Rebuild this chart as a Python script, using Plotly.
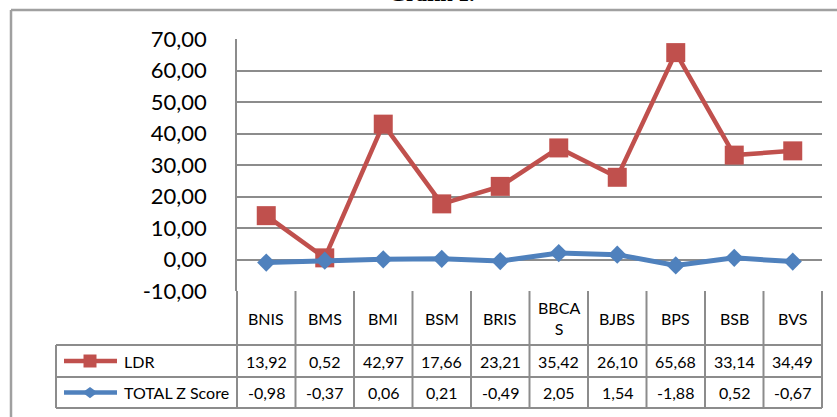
import plotly.graph_objects as go

# ---- data ----
categories = ["BNIS", "BMS", "BMI", "BSM", "BRIS", "BBCAS", "BJBS", "BPS", "BSB", "BVS"]
header_labels = ["BNIS", "BMS", "BMI", "BSM", "BRIS", "BBCA<br>S", "BJBS", "BPS", "BSB", "BVS"]
ldr = [13.92, 0.52, 42.97, 17.66, 23.21, 35.42, 26.10, 65.68, 33.14, 34.49]
zscore = [-0.98, -0.37, 0.06, 0.21, -0.49, 2.05, 1.54, -1.88, 0.52, -0.67]
series_names = ["LDR", "TOTAL Z Score"]
y_ticks = [-10, 0, 10, 20, 30, 40, 50, 60, 70]
title_text = "<b>Grafik 1.</b>"

# ---- layout geometry (pixels) ----
W, H = 837, 417
L, R, T, B = 237, 15, 39, 126
PW, PH = W - L - R, H - T - B

def px(x):
    return (x - L) / PW

def py(y):
    return (H - B - y) / PH

RED = "#C0504D"
BLUE = "#4F81BD"
GRID = "#8c8c8c"
FONT = "Lato"

def fmt(v):
    return f"{v:.2f}".replace(".", ",")

fig = go.Figure()
fig.add_trace(go.Scatter(
    x=categories, y=ldr, name=series_names[0], mode="lines+markers",
    line=dict(color=RED, width=4.5),
    marker=dict(symbol="square", size=19, color=RED),
    cliponaxis=False, showlegend=False))
fig.add_trace(go.Scatter(
    x=categories, y=zscore, name=series_names[1], mode="lines+markers",
    line=dict(color=BLUE, width=5),
    marker=dict(symbol="diamond", size=14, color=BLUE),
    cliponaxis=False, showlegend=False))

shapes = []
annotations = []
lc = dict(color=GRID, width=2)

# outer chart border
shapes.append(dict(type="line", xref="paper", yref="paper", x0=px(11), x1=px(W + 5),
                   y0=py(10), y1=py(10), line=dict(color="#a0a0a0", width=2.5)))
shapes.append(dict(type="line", xref="paper", yref="paper", x0=px(11), x1=px(11),
                   y0=py(10), y1=py(H + 5), line=dict(color="#a0a0a0", width=2.5)))

# data table rows
row_hdr_top, row1_top, row2_top, row_bot = 291, 345, 377, 408
leg_left, tab_right = 56, L + PW
for yy in (row1_top, row2_top, row_bot):
    shapes.append(dict(type="line", xref="paper", yref="paper", x0=px(leg_left), x1=px(tab_right),
                       y0=py(yy), y1=py(yy), line=lc))
shapes.append(dict(type="line", xref="paper", yref="paper", x0=px(leg_left), x1=px(leg_left),
                   y0=py(row1_top), y1=py(row_bot), line=lc))
for i in range(len(categories) + 1):
    xx = i / len(categories)
    shapes.append(dict(type="line", xref="paper", yref="paper", x0=xx, x1=xx,
                       y0=py(row_hdr_top), y1=py(row_bot), line=lc))

# header labels and values
hdr_c = (row_hdr_top + row1_top) / 2
r1_c = (row1_top + row2_top) / 2
r2_c = (row2_top + row_bot) / 2
for i, c in enumerate(categories):
    annotations.append(dict(x=c, xref="x", y=py(hdr_c), yref="paper", text=header_labels[i],
                            showarrow=False, font=dict(family=FONT, size=16, color="black"),
                            xanchor="center", yanchor="middle"))
    annotations.append(dict(x=c, xref="x", y=py(r1_c), yref="paper", text=fmt(ldr[i]),
                            showarrow=False, font=dict(family=FONT, size=16, color="black"),
                            xanchor="center", yanchor="middle"))
    annotations.append(dict(x=c, xref="x", y=py(r2_c), yref="paper", text=fmt(zscore[i]),
                            showarrow=False, font=dict(family=FONT, size=16, color="black"),
                            xanchor="center", yanchor="middle"))

# legend keys in table
for name, col, yc, sym in ((series_names[0], RED, r1_c, "square"), (series_names[1], BLUE, r2_c, "diamond")):
    shapes.append(dict(type="line", xref="paper", yref="paper", x0=px(64), x1=px(117),
                       y0=py(yc), y1=py(yc), line=dict(color=col, width=4.5)))
    if sym == "square":
        s = 6.5
        shapes.append(dict(type="rect", xref="paper", yref="paper", x0=px(90 - s), x1=px(90 + s),
                           y0=py(yc - s), y1=py(yc + s), fillcolor=col, line=dict(width=0)))
    else:
        s = 7.5
        path = (f"M {px(90 - s)} {py(yc)} L {px(90)} {py(yc - s * 0.75)} "
                f"L {px(90 + s)} {py(yc)} L {px(90)} {py(yc + s * 0.75)} Z")
        shapes.append(dict(type="path", xref="paper", yref="paper", path=path,
                           fillcolor=col, line=dict(width=0)))
    annotations.append(dict(x=px(122), xref="paper", y=py(yc), yref="paper", text=name,
                            showarrow=False, font=dict(family=FONT, size=16, color="black"),
                            xanchor="left", yanchor="middle"))

# title (only its lower edge falls inside the page, as in the reference)
annotations.append(dict(x=px(432), xref="paper", y=py(8), yref="paper", text=title_text,
                        showarrow=False, font=dict(family="Liberation Serif", size=22, color="black"),
                        xanchor="center", yanchor="bottom"))

fig.update_layout(
    width=W, height=H,
    margin=dict(l=L, r=R, t=T, b=B),
    paper_bgcolor="white", plot_bgcolor="white",
    shapes=shapes, annotations=annotations,
    showlegend=False,
    xaxis=dict(type="category", range=[-0.5, len(categories) - 0.5], showgrid=False,
               showticklabels=False, showline=False, zeroline=False, fixedrange=True),
    yaxis=dict(range=[-10, 70], tickvals=y_ticks, ticktext=[fmt(v) for v in y_ticks],
               showgrid=True, gridcolor=GRID, gridwidth=1.5, zeroline=False,
               showline=True, linecolor=GRID, linewidth=1.5,
               ticks="", ticklabelstandoff=24,
               tickfont=dict(family=FONT, size=22, color="black")),
)

fig.write_html("out.html")
